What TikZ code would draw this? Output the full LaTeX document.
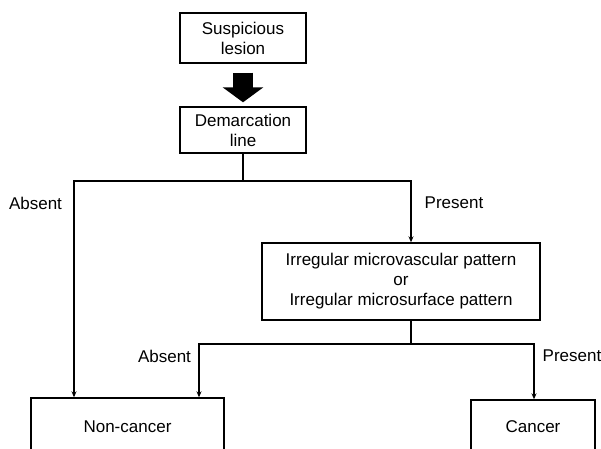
\documentclass[tikz,border=0pt]{standalone}
\usepackage{fontspec}
\setmainfont{Liberation Sans}
\usetikzlibrary{arrows.meta}
\begin{document}
\begin{tikzpicture}[x=1pt,y=-1pt,
  every node/.style={font=\fontsize{17}{20}\selectfont},
  box/.style={draw,line width=1.4pt,rectangle,align=center,inner sep=0pt},
  link/.style={line width=1.4pt},
  linkarrow/.style={line width=1.4pt,-{Stealth[length=6pt,width=5pt]}},
  fatarrow/.style={line width=20pt,-{Triangle[length=15pt,width=40pt]},shorten <=9pt,shorten >=4pt},
  lbl/.style={inner sep=0pt}]
\useasboundingbox (0,0) rectangle (601,448);

% boxes
\node[box,minimum width=126pt,minimum height=50pt] (susp) at (243,38) {Suspicious\\lesion};
\node[box,minimum width=126pt,minimum height=46pt] (dem) at (243,130) {Demarcation\\line};
\node[box,minimum width=278pt,minimum height=77pt] (imp) at (401,281.5)
  {Irregular microvascular pattern\\or\\Irregular microsurface pattern};
\node[box,minimum width=193pt,minimum height=56pt,text depth=0pt] (non) at (127.5,426) {};
\node at (127.5,427) {Non-cancer};
\node[box,minimum width=124pt,minimum height=54pt] (can) at (533,427) {};
\node at (533,427) {Cancer};

% branch points
\coordinate (j1) at (243,181);
\coordinate (j2) at (411,344);

% connectors
\draw[fatarrow] (susp) -- (dem);
\draw[link] (dem.south) -- (j1);
\draw[linkarrow] (j1) -| (74,0 |- non.north);
\draw[linkarrow] (j1) -| (imp.north -| j2);
\draw[link] (imp.south -| j2) -- (j2);
\draw[linkarrow] (j2) -| (199,0 |- non.north);
\draw[linkarrow] (j2) -| (534,0 |- can.north);

% branch labels
\node[lbl] (a1) at (35.5,203) {Absent};
\node[lbl] (p1) at (454,203) {Present};
\node[lbl] (a2) at (164.5,356) {Absent};
\node[lbl] (p2) at (572,356) {Present};
\end{tikzpicture}
\end{document}
